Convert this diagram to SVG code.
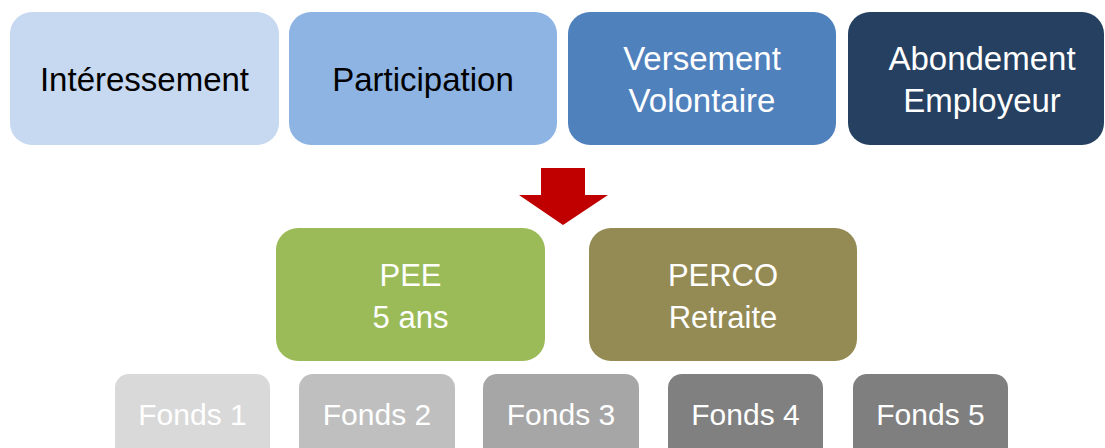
<svg xmlns="http://www.w3.org/2000/svg" width="1105" height="448" viewBox="0 0 1105 448">
<style>
text{font-family:"Liberation Sans","Open Sans",sans-serif;text-anchor:middle}
.t{font-size:33px}
.m{font-size:31px;fill:#fff}
.f{font-size:30px;fill:#fff}
.dk{fill:#000}
.wh{fill:#fff}
</style>
<rect width="1105" height="448" fill="#fff"/>
<g id="interessement"><rect x="10" y="12" width="269" height="133" rx="22" fill="#C6D9F1"/><text class="t dk" x="144.5" y="91">Intéressement</text></g>
<g id="participation"><rect x="289" y="12" width="268" height="133" rx="22" fill="#8EB4E3"/><text class="t dk" x="423" y="91">Participation</text></g>
<g id="versement"><rect x="568" y="12" width="268" height="133" rx="22" fill="#4F81BD"/><text class="t wh" x="702" y="70">Versement</text><text class="t wh" x="702" y="112">Volontaire</text></g>
<g id="abondement"><rect x="848" y="12" width="256" height="133" rx="22" fill="#254061"/><text class="t wh" x="982" y="70">Abondement</text><text class="t wh" x="982" y="112">Employeur</text></g>
<g id="connectors"><polygon points="541,168 585,168 585,195 608,195 563,225 519,195 541,195" fill="#C00000"/></g>
<g id="pee"><rect x="276" y="228" width="269" height="133" rx="22" fill="#9BBB59"/><text class="m" x="410.5" y="286">PEE</text><text class="m" x="410.5" y="328">5 ans</text></g>
<g id="perco"><rect x="589" y="228" width="268" height="133" rx="22" fill="#948A54"/><text class="m" x="723" y="286">PERCO</text><text class="m" x="723" y="328">Retraite</text></g>
<g id="fonds1"><rect x="115" y="374" width="155" height="90" rx="14" fill="#D9D9D9"/><text class="f" x="192.5" y="425">Fonds 1</text></g>
<g id="fonds2"><rect x="299" y="374" width="156" height="90" rx="14" fill="#BFBFBF"/><text class="f" x="377" y="425">Fonds 2</text></g>
<g id="fonds3"><rect x="483" y="374" width="156" height="90" rx="14" fill="#A6A6A6"/><text class="f" x="561" y="425">Fonds 3</text></g>
<g id="fonds4"><rect x="668" y="374" width="155" height="90" rx="14" fill="#808080"/><text class="f" x="745.5" y="425">Fonds 4</text></g>
<g id="fonds5"><rect x="853" y="374" width="155" height="90" rx="14" fill="#7F7F7F"/><text class="f" x="930.5" y="425">Fonds 5</text></g>
</svg>
